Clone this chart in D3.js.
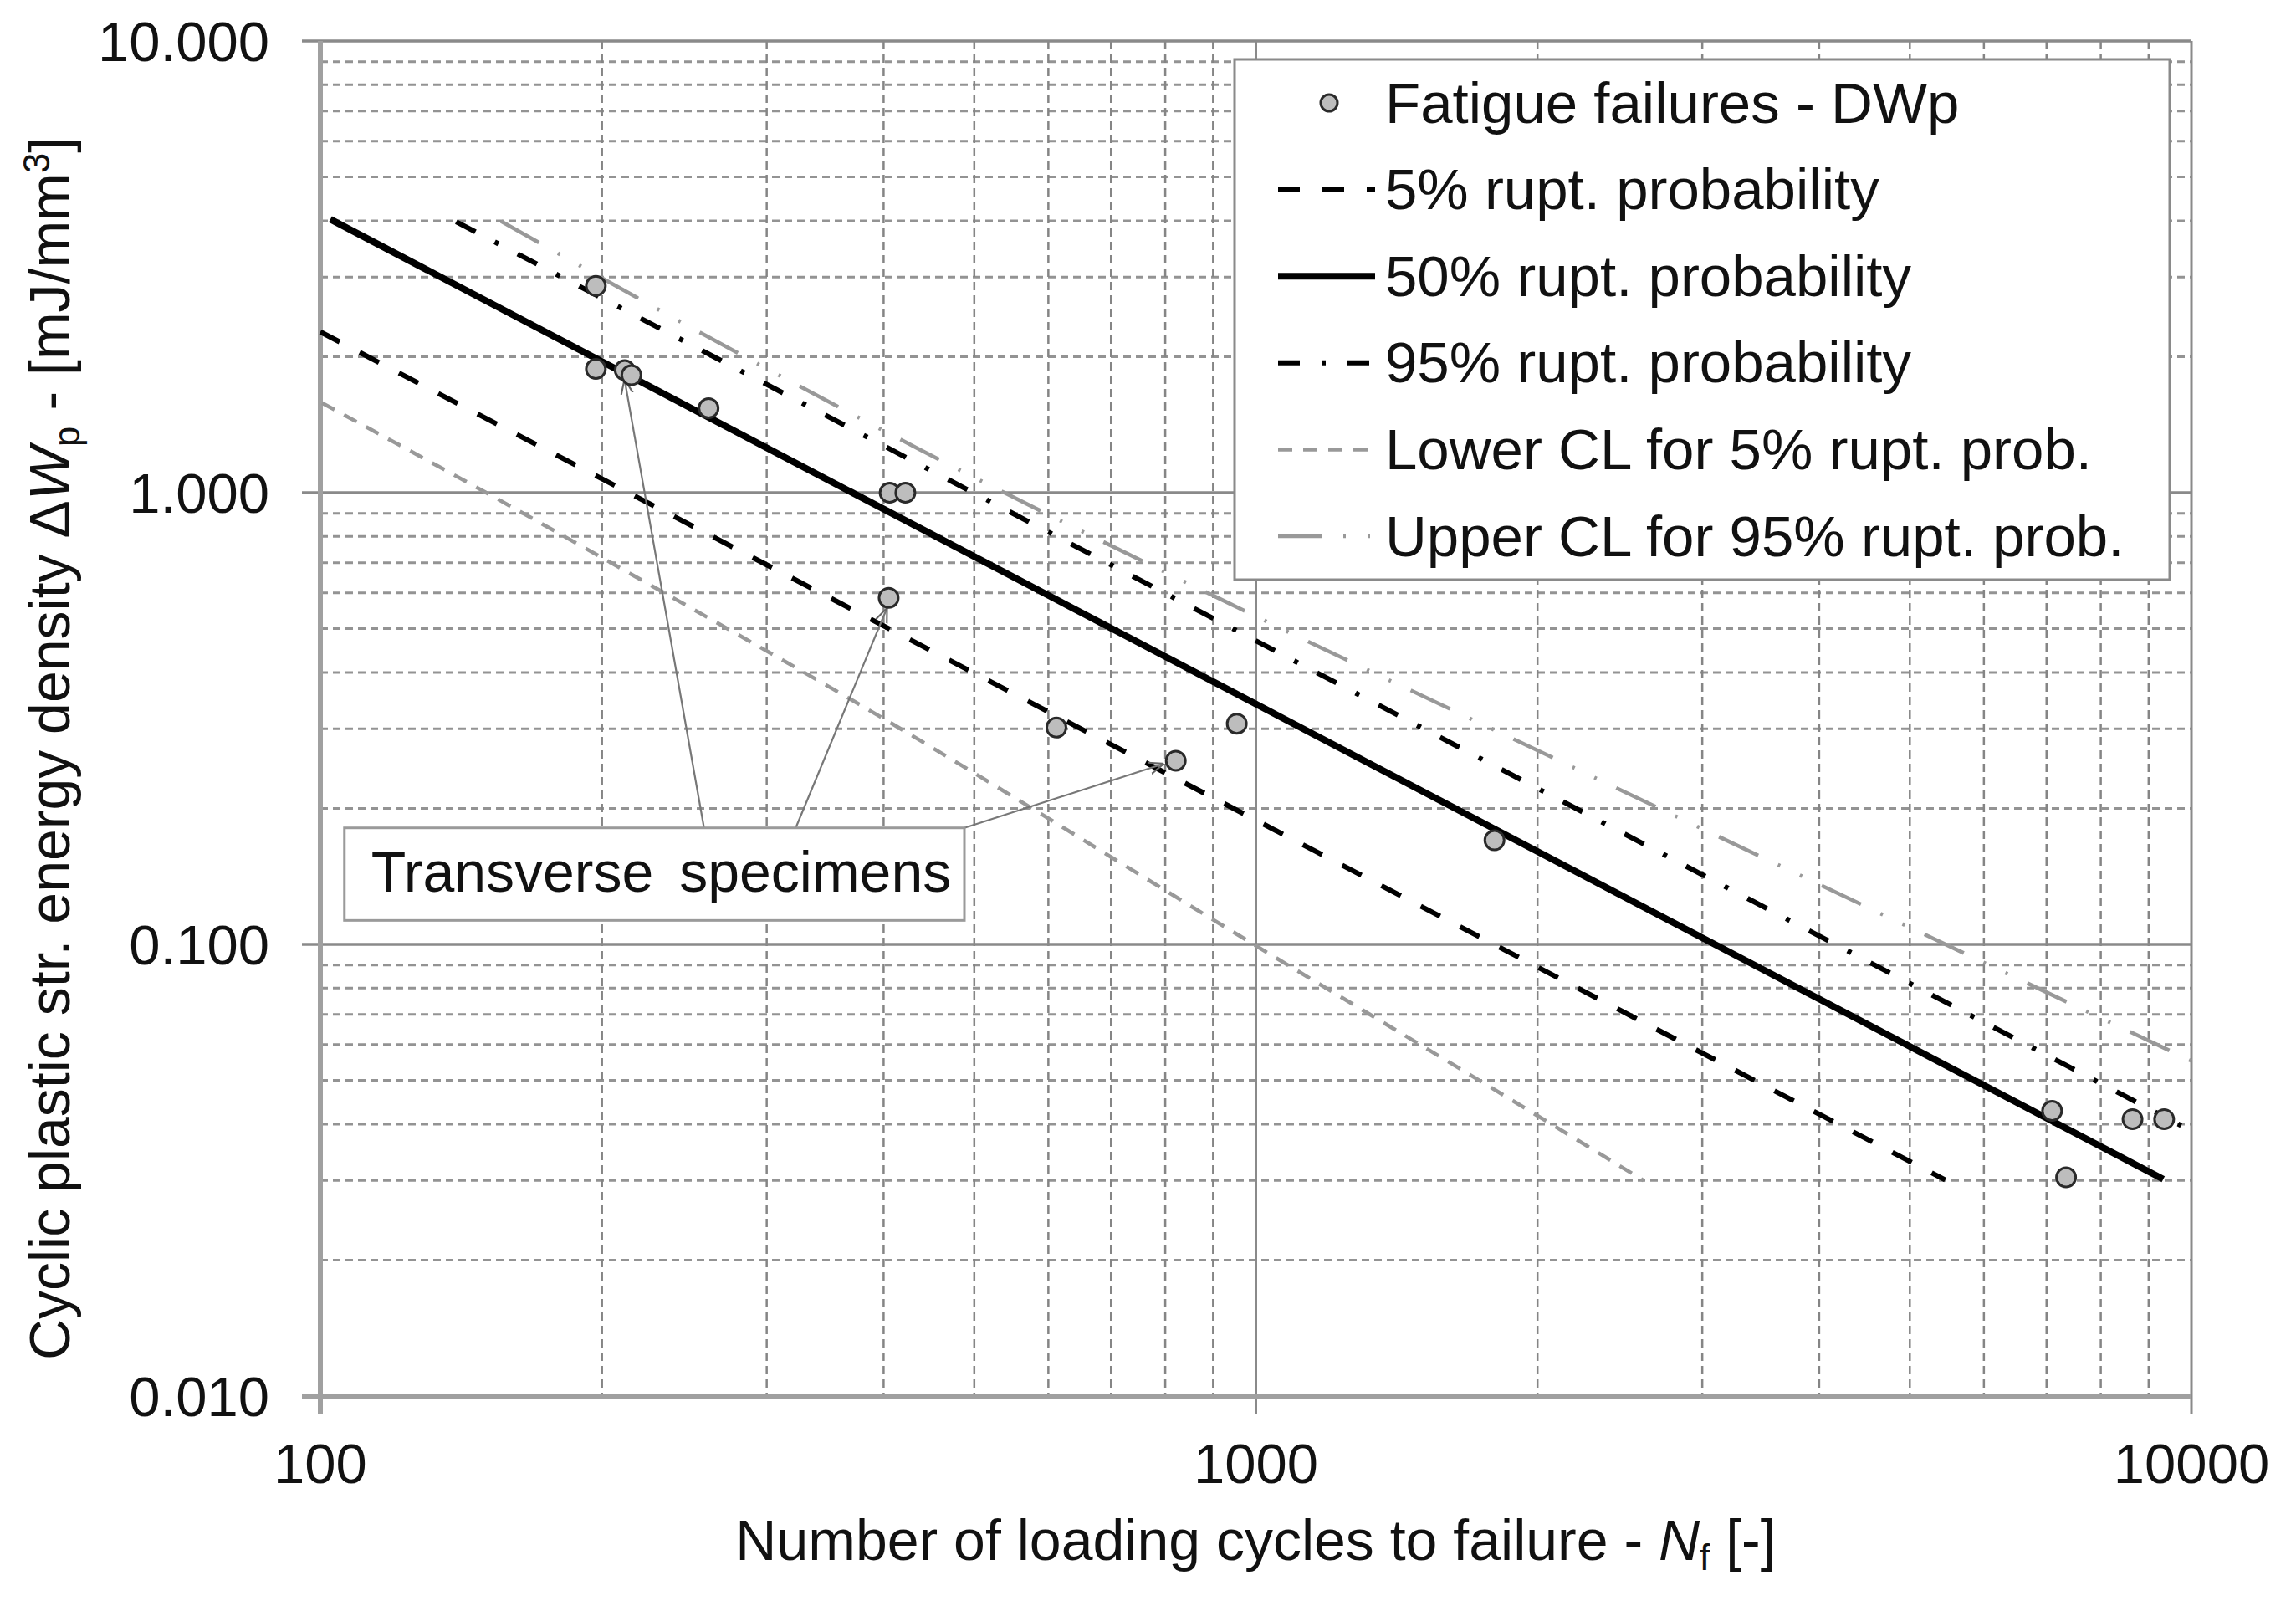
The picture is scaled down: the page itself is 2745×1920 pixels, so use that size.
<!DOCTYPE html>
<html>
<head>
<meta charset="utf-8">
<script src="https://cdn.jsdelivr.net/npm/d3@7"></script>
<style>
  html, body { margin: 0; padding: 0; background: #fff; }
  svg { display: block; }
  text { font-family: "Liberation Sans", Arial, sans-serif; fill: #111; }
</style>
</head>
<body>
<svg id="chart" width="2745" height="1920"></svg>
<script>
// ---------------- data ----------------
const xTickValues = [100, 1000, 10000];
const xTickLabels = ["100", "1000", "10000"];
const yTickValues = [10, 1, 0.1, 0.01];
const yTickLabels = ["10.000", "1.000", "0.100", "0.010"];

// Fatigue failures - DWp (cycles to failure, plastic strain energy density)
const failN = [197, 197, 211.5, 215, 260, 406, 422, 405, 612, 821, 954, 1799, 7096, 7345, 8650, 9350];
const failW = [2.87, 1.88, 1.868, 1.82, 1.538, 1.0, 1.0, 0.585, 0.302, 0.255, 0.308, 0.170, 0.0428, 0.0305, 0.0410, 0.0410];

// Fitted lines (end points)
const p5N = [100, 5455];
const p5W = [2.27, 0.0301];
const p50N = [102.5, 9330];
const p50W = [4.03, 0.0302];
const p95N = [139.7, 9750];
const p95W = [3.98, 0.0397];
// Confidence limits (curved)
const lowerN = [100.4, 150, 223, 366, 993, 1994, 2597];
const lowerW = [1.58, 1.003, 0.632, 0.352, 0.1002, 0.0419, 0.0300];
const upperN = [156, 260, 436, 956, 2118, 4673, 10000];
const upperW = [3.99, 2.21, 1.25, 0.557, 0.254, 0.1165, 0.0552];

// Annotation "Transverse specimens": box (data coords) and arrows
const annoText = "Transverse specimens";
const annoBoxN = [106.1, 488];
const annoBoxW = [0.1811, 0.1130];
const arrowFromN = [257.1, 322.2, 488];
const arrowFromW = [0.1811, 0.1811, 0.1811];
const arrowToN = [211.4, 403.4, 797.3];
const arrowToW = [1.784, 0.5557, 0.2512];

const legendLabels = [
  "Fatigue failures - DWp",
  "5% rupt. probability",
  "50% rupt. probability",
  "95% rupt. probability",
  "Lower CL for 5% rupt. prob.",
  "Upper CL for 95% rupt. prob."
];

// ---------------- layout ----------------
const svg = d3.select("#chart");
const X0 = 383, X1 = 2620, Y0 = 49, Y1 = 1669;
const x = d3.scaleLog().domain([100, 10000]).range([X0, X1]);
const y = d3.scaleLog().domain([0.01, 10]).range([Y1, Y0]);

const styles = {
  p5:    { stroke: "#000", width: 6, dash: "26,27", cap: "butt" },
  p50:   { stroke: "#000", width: 8, dash: null, cap: "butt" },
  p95:   { stroke: "#000", width: 6, dash: "26,26,5,26", cap: "butt" },
  lower: { stroke: "#999", width: 4.5, dash: "17,13", cap: "butt" },
  upper: { stroke: "#999", width: 4.5, dash: "52,26,3,26,3,26", cap: "butt" }
};

// ---------------- grid ----------------
const g = svg.append("g");
const minorY = [];
[0.01, 0.1, 1].forEach(d => { for (let k = 2; k <= 9; k++) minorY.push(d * k); });
const minorX = [];
[100, 1000].forEach(d => { for (let k = 2; k <= 9; k++) minorX.push(d * k); });

g.selectAll(".minY").data(minorY).enter().append("line")
  .attr("x1", X0).attr("x2", X1)
  .attr("y1", d => y(d)).attr("y2", d => y(d))
  .attr("stroke", "#939393").attr("stroke-width", 3).attr("stroke-dasharray", "9,6");
g.selectAll(".minX").data(minorX).enter().append("line")
  .attr("x1", d => x(d)).attr("x2", d => x(d))
  .attr("y1", Y0).attr("y2", Y1)
  .attr("stroke", "#858585").attr("stroke-width", 2.5).attr("stroke-dasharray", "10,6");
g.selectAll(".majY").data(yTickValues).enter().append("line")
  .attr("x1", X0 - 22).attr("x2", X1)
  .attr("y1", d => y(d)).attr("y2", d => y(d))
  .attr("stroke", "#8a8a8a").attr("stroke-width", 3.5);
g.selectAll(".majX").data(xTickValues).enter().append("line")
  .attr("x1", d => x(d)).attr("x2", d => x(d))
  .attr("y1", Y0).attr("y2", Y1 + 22)
  .attr("stroke", "#8a8a8a").attr("stroke-width", 3);

// axes (thick light gray)
g.append("line").attr("x1", X0).attr("x2", X0).attr("y1", Y0).attr("y2", Y1 + 22)
  .attr("stroke", "#a0a0a0").attr("stroke-width", 6);
g.append("line").attr("x1", X0 - 22).attr("x2", X1).attr("y1", Y1).attr("y2", Y1)
  .attr("stroke", "#a0a0a0").attr("stroke-width", 6);

// tick labels
svg.selectAll(".ytl").data(yTickValues).enter().append("text")
  .attr("x", 322).attr("y", d => y(d))
  .attr("text-anchor", "end").attr("dominant-baseline", "central")
  .attr("font-size", 67)
  .text((d, i) => yTickLabels[i]);
svg.selectAll(".xtl").data(xTickValues).enter().append("text")
  .attr("x", d => x(d)).attr("y", 1749)
  .attr("text-anchor", "middle").attr("dominant-baseline", "central")
  .attr("font-size", 67)
  .text((d, i) => xTickLabels[i]);

// axis titles
const xt = svg.append("text").attr("x", (X0 + X1) / 2).attr("y", 1865)
  .attr("text-anchor", "middle").attr("font-size", 68);
xt.append("tspan").text("Number of loading cycles to failure - ");
xt.append("tspan").attr("font-style", "italic").text("N");
xt.append("tspan").attr("font-size", 44).attr("dy", 12).text("f");
xt.append("tspan").attr("dy", -12).text(" [-]");

const yt = svg.append("text").attr("transform", "translate(83,895) rotate(-90)")
  .attr("text-anchor", "middle").attr("font-size", 68);
yt.append("tspan").text("Cyclic plastic str. energy density \u0394");
yt.append("tspan").attr("font-style", "italic").text("W");
yt.append("tspan").attr("font-size", 44).attr("dy", 12).text("p");
yt.append("tspan").attr("dy", -12).text(" - [mJ/mm");
yt.append("tspan").attr("font-size", 44).attr("dy", -24).text("3");
yt.append("tspan").attr("dy", 24).text("]");

// ---------------- series lines ----------------
const lineGen = d3.line().x(d => x(d[0])).y(d => y(d[1]));
const curveGen = d3.line().x(d => x(d[0])).y(d => y(d[1])).curve(d3.curveMonotoneX);
const plot = svg.append("g");
function drawSeries(N, W, st, gen) {
  plot.append("path").datum(N.map((n, i) => [n, W[i]]))
    .attr("d", gen).attr("fill", "none")
    .attr("stroke", st.stroke).attr("stroke-width", st.width)
    .attr("stroke-dasharray", st.dash).attr("stroke-linecap", st.cap);
}
drawSeries(lowerN, lowerW, styles.lower, curveGen);
drawSeries(upperN, upperW, styles.upper, curveGen);
drawSeries(p5N, p5W, styles.p5, lineGen);
drawSeries(p95N, p95W, styles.p95, lineGen);
drawSeries(p50N, p50W, styles.p50, lineGen);

// ---------------- annotation ----------------
const defs = svg.append("defs");
defs.append("marker").attr("id", "openArrow")
  .attr("viewBox", "0 0 10 10").attr("refX", 10).attr("refY", 5)
  .attr("markerWidth", 8).attr("markerHeight", 8).attr("markerUnits", "strokeWidth")
  .attr("orient", "auto")
  .append("path").attr("d", "M0,1 L10,5 L0,9").attr("fill", "none")
  .attr("stroke", "#666").attr("stroke-width", 1.2);

const arrows = arrowFromN.map((n, i) => ({ x1: n, y1: arrowFromW[i], x2: arrowToN[i], y2: arrowToW[i] }));
plot.selectAll(".arrow").data(arrows).enter().append("line")
  .attr("x1", d => x(d.x1)).attr("y1", d => y(d.y1))
  .attr("x2", d => x(d.x2)).attr("y2", d => y(d.y2))
  .attr("stroke", "#777").attr("stroke-width", 2.2)
  .attr("marker-end", "url(#openArrow)");

// ---------------- markers ----------------
plot.selectAll(".pt").data(failN.map((n, i) => [n, failW[i]])).enter().append("circle")
  .attr("cx", d => x(d[0])).attr("cy", d => y(d[1])).attr("r", 11.5)
  .attr("fill", "#bdbdbd").attr("stroke", "#2a2a2a").attr("stroke-width", 3);

// annotation box (on top)
const bx0 = x(annoBoxN[0]), bx1 = x(annoBoxN[1]);
const by0 = y(annoBoxW[0]), by1 = y(annoBoxW[1]);
svg.append("rect").attr("x", bx0).attr("y", by0)
  .attr("width", bx1 - bx0).attr("height", by1 - by0)
  .attr("fill", "#fff").attr("stroke", "#9a9a9a").attr("stroke-width", 3);
svg.append("text").attr("x", bx0 + 32).attr("y", by0 + 76)
  .attr("font-size", 68).attr("word-spacing", 12).text(annoText);

// ---------------- legend ----------------
const LX0 = 1476, LY0 = 71, LX1 = 2594, LY1 = 693;
const leg = svg.append("g");
leg.append("rect").attr("x", LX0).attr("y", LY0).attr("width", LX1 - LX0).attr("height", LY1 - LY0)
  .attr("fill", "#fff").attr("stroke", "#8a8a8a").attr("stroke-width", 3);
const rowY = d3.range(legendLabels.length).map(i => 123 + i * 103.6);
const legStyles = [null, styles.p5, styles.p50, styles.p95, styles.lower, styles.upper];
legendLabels.forEach((lab, i) => {
  const yy = rowY[i];
  if (i === 0) {
    leg.append("circle").attr("cx", 1589).attr("cy", yy).attr("r", 10)
      .attr("fill", "#bdbdbd").attr("stroke", "#2a2a2a").attr("stroke-width", 3);
  } else {
    const st = legStyles[i];
    leg.append("line").attr("x1", 1528).attr("x2", 1644).attr("y1", yy).attr("y2", yy)
      .attr("stroke", st.stroke).attr("stroke-width", st.width)
      .attr("stroke-dasharray", st.dash).attr("stroke-linecap", st.cap);
  }
  leg.append("text").attr("x", 1656).attr("y", yy).attr("dominant-baseline", "central")
    .attr("font-size", 69).text(lab);
});
</script>
</body>
</html>
